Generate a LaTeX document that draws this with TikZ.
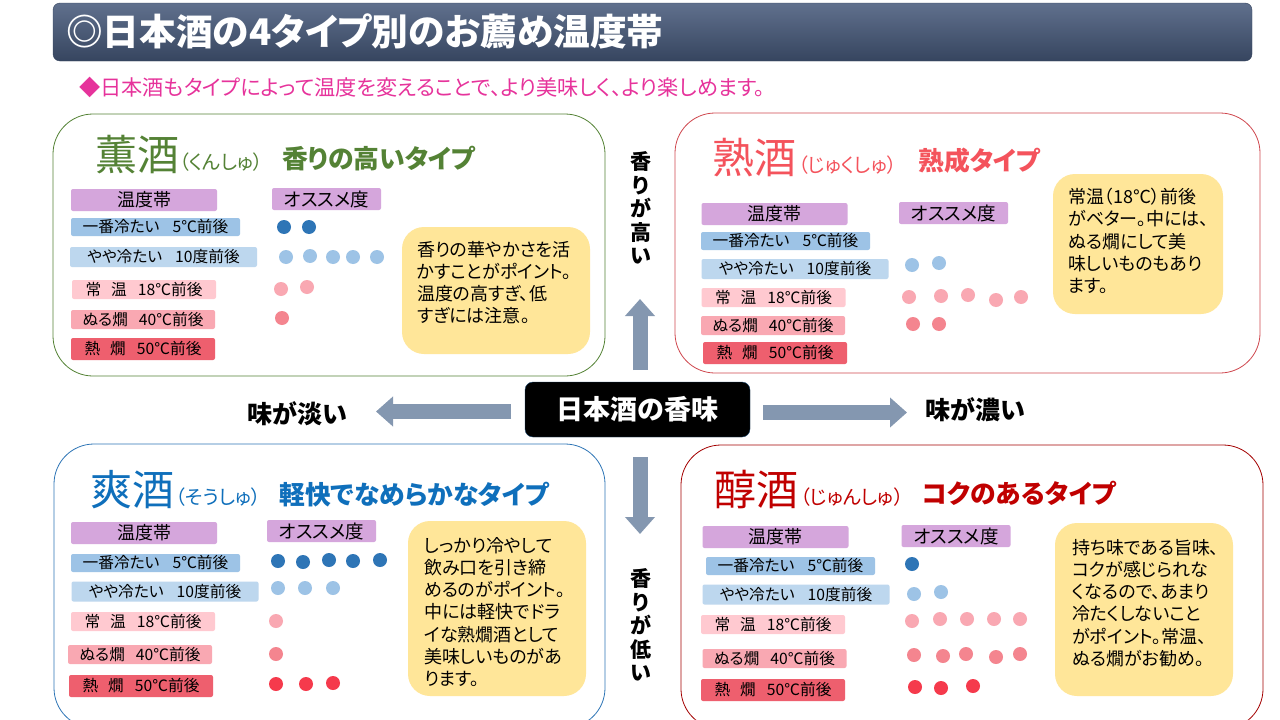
\documentclass[tikz,border=0pt]{standalone}
\usepackage{fontspec}
\setmainfont[RawFeature={+palt}]{Noto Sans CJK JP}
\usetikzlibrary{arrows.meta}
\definecolor{kungreen}{HTML}{548235}
\definecolor{jukured}{HTML}{F4535C}
\definecolor{soublue}{HTML}{0F6FBB}
\definecolor{junred}{HTML}{C00000}
\definecolor{darkdot}{HTML}{2E75B6}
\definecolor{lightdot}{HTML}{9DC3E6}
\definecolor{pinkdot}{HTML}{F9A8B2}
\definecolor{rosedot}{HTML}{F4858F}
\definecolor{reddot}{HTML}{F53A4C}
\definecolor{noteyellow}{HTML}{FFE699}
\definecolor{headpurple}{HTML}{D5A6DC}
\definecolor{coolblue}{HTML}{BDD7EE}
\definecolor{roompink}{HTML}{FFC9D0}
\definecolor{hotred}{HTML}{EE5F6E}
\definecolor{arrowblue}{HTML}{8497B0}
\definecolor{titletop}{HTML}{60708D}
\definecolor{titlelow}{HTML}{36455F}
\definecolor{leadpink}{HTML}{E6339B}
\tikzset{
	panelbox/.style={draw, fill=white, rounded corners=40pt, line width=.8pt},
	notebox/.style={fill=noteyellow, rounded corners=22pt},
	notetext/.style={anchor=north west, inner sep=0pt, align=left, font=\fontsize{18}{22.2}\selectfont},
	kanji/.style={anchor=center, inner sep=0pt, font=\fontsize{42}{42}\selectfont},
	reading/.style={anchor=west, inner sep=0pt, font=\fontsize{19.5}{19.5}\selectfont},
	typename/.style={anchor=west, inner sep=0pt, font=\bfseries\fontsize{25.8}{25.8}\selectfont},
	bar/.style={rounded corners=2pt, inner sep=0pt, font=\fontsize{15.7}{15.7}\selectfont},
	headbar/.style={bar, fill=headpurple, minimum width=146pt, minimum height=22pt, font=\fontsize{18}{18}\selectfont},
	rankbar/.style={bar, fill=headpurple, minimum width=109pt, minimum height=22pt, font=\fontsize{18.5}{18.5}\selectfont},
	coldbar/.style={bar, fill=lightdot, minimum width=169pt, minimum height=18pt},
	coolbar/.style={bar, fill=coolblue, minimum width=187pt, minimum height=20pt},
	roombar/.style={bar, fill=roompink, minimum width=144pt, minimum height=19pt},
	warmbar/.style={bar, fill=pinkdot, minimum width=144pt, minimum height=19pt},
	hotbar/.style={bar, fill=hotred, minimum width=144pt, minimum height=22pt},
	dot/.style={circle, inner sep=0pt, minimum size=14pt},
	sidelabel/.style={inner sep=0pt, font=\bfseries\fontsize{25}{25}\selectfont},
	stacklabel/.style={inner sep=0pt, align=center, font=\bfseries\fontsize{21}{23.5}\selectfont},
	blockarrow/.style={draw=arrowblue, line width=15pt, -{Triangle[length=17pt,width=29pt]}}
}
\begin{document}
\begin{tikzpicture}[x=1pt, y=-1pt]
	\useasboundingbox (0,0) rectangle (1280,720);
	% title and lead
	\node[draw=titlelow, top color=titletop, bottom color=titlelow, rounded corners=7pt, minimum width=1199pt, minimum height=58pt, inner sep=0pt] (titlebar) at (652.5,32) {};
	\node[anchor=west, inner sep=0pt, text=white, font=\bfseries\fontsize{36.7}{36.7}\selectfont] (titletext) at (66,31) {◎日本酒の4タイプ別のお薦め温度帯};
	\node[anchor=west, inner sep=0pt, text=leadpink, font=\fontsize{21.2}{21.2}\selectfont] (leadtext) at (79,87) {◆日本酒もタイプによって温度を変えることで、より美味しく、より楽しめます。};
	% panels
	\node[panelbox, draw=kungreen, minimum width=552pt, minimum height=262pt] (kunpanel) at (329,245) {};
	\node[panelbox, draw=jukured!85!black, minimum width=585pt, minimum height=260pt] (jukupanel) at (967.5,243) {};
	\node[panelbox, draw=darkdot, minimum width=551pt, minimum height=284pt] (soupanel) at (329.5,586) {};
	\node[panelbox, draw=junred!85!black, minimum width=582pt, minimum height=284pt] (junpanel) at (972,587) {};
	% kunshu
	\node[kanji, text=kungreen] (kunname) at (137,155) {薫酒};
	\node[reading, text=kungreen] (kunread) at (179,162) {（くんしゅ）};
	\node[typename, text=kungreen] (kuntype) at (282,159) {香りの高いタイプ};
	\node[headbar] (kunhead) at (144,200) {温度帯};
	\node[rankbar] (kunrank) at (326.5,199) {オススメ度};
	\node[coldbar] (kuncold) at (155.5,227) {一番冷たい\hspace{13pt}5℃前後};
	\node[coolbar] (kuncool) at (163.5,257) {やや冷たい\hspace{13pt}10度前後};
	\node[roombar] (kunroom) at (144,289.5) {常\hspace{10pt}温\hspace{11pt}18℃前後};
	\node[warmbar] (kunwarm) at (143,319.5) {ぬる燗\hspace{11pt}40℃前後};
	\node[hotbar] (kunhot) at (143,349) {熱\hspace{10pt}燗\hspace{11pt}50℃前後};
	\foreach \id/\x/\y/\c in {a/284/227/darkdot, b/309/227/darkdot, c/286/257/lightdot, d/310/256/lightdot, e/333/257/lightdot, f/353/257/lightdot, g/377/257/lightdot, h/281/289/pinkdot, i/307/287/pinkdot, j/282/318/rosedot}
		\node[dot, fill=\c] (kundot\id) at (\x,\y) {};
	\node[notebox, minimum width=188pt, minimum height=127pt] (kunnote) at (496,290.5) {};
	\node[notetext] (kunnotetext) at (417,241) {香りの華やかさを活\\かすことがポイント。\\温度の高すぎ、低\\すぎには注意。};
	% jukushu
	\node[kanji, text=jukured] (jukuname) at (754,158) {熟酒};
	\node[reading, text=jukured] (jukuread) at (798,165) {（じゅくしゅ）};
	\node[typename, text=jukured] (jukutype) at (918,161) {熟成タイプ};
	\node[headbar] (jukuhead) at (774.5,214) {温度帯};
	\node[rankbar] (jukurank) at (953.5,213) {オススメ度};
	\node[coldbar] (jukucold) at (785.5,241) {一番冷たい\hspace{13pt}5℃前後};
	\node[coolbar] (jukucool) at (795,269) {やや冷たい\hspace{13pt}10度前後};
	\node[roombar] (jukuroom) at (773.5,297.5) {常\hspace{10pt}温\hspace{11pt}18℃前後};
	\node[warmbar] (jukuwarm) at (773,325.5) {ぬる燗\hspace{11pt}40℃前後};
	\node[hotbar] (jukuhot) at (775,353) {熱\hspace{10pt}燗\hspace{11pt}50℃前後};
	\foreach \id/\x/\y/\c in {a/912/265/lightdot, b/939/263/lightdot, c/909/297/pinkdot, d/941/296/pinkdot, e/968/295/pinkdot, f/996/300/pinkdot, g/1021/297/pinkdot, h/913/324/rosedot, i/939/324/rosedot}
		\node[dot, fill=\c] (jukudot\id) at (\x,\y) {};
	\node[notebox, minimum width=170pt, minimum height=140pt] (jukunote) at (1138,244) {};
	\node[notetext] (jukunotetext) at (1068,188) {常温（18℃）前後\\がベター。中には、\\ぬる燗にして美\\味しいものもあり\\ます。};
	% soushu
	\node[kanji, text=soublue] (souname) at (132,490) {爽酒};
	\node[reading, text=soublue] (souread) at (175,497) {（そうしゅ）};
	\node[typename, text=soublue] (soutype) at (279,495) {軽快でなめらかなタイプ};
	\node[headbar] (souhead) at (144,533) {温度帯};
	\node[rankbar] (sourank) at (321.5,531) {オススメ度};
	\node[coldbar] (soucold) at (155.5,563) {一番冷たい\hspace{13pt}5℃前後};
	\node[coolbar] (soucool) at (165,591.5) {やや冷たい\hspace{13pt}10度前後};
	\node[roombar] (souroom) at (143,621.5) {常\hspace{10pt}温\hspace{11pt}18℃前後};
	\node[warmbar] (souwarm) at (140,654.5) {ぬる燗\hspace{11pt}40℃前後};
	\node[hotbar] (souhot) at (141,686) {熱\hspace{10pt}燗\hspace{11pt}50℃前後};
	\foreach \id/\x/\y/\c in {a/278/561/darkdot, b/303/562/darkdot, c/329/560/darkdot, d/353/561/darkdot, e/380/560/darkdot, f/278/588/lightdot, g/305/588/lightdot, h/333/588/lightdot, i/276/621/pinkdot, j/276/654/rosedot, k/276/684/reddot, l/306/684/reddot, m/333/683/reddot}
		\node[dot, fill=\c] (soudot\id) at (\x,\y) {};
	\node[notebox, minimum width=178pt, minimum height=175pt] (sounote) at (497,608.5) {};
	\node[notetext] (sounotetext) at (424,537) {しっかり冷やして\\飲み口を引き締\\めるのがポイント。\\中には軽快でドラ\\イな熟燗酒として\\美味しいものがあ\\ります。};
	% junshu
	\node[kanji, text=junred] (junname) at (756,490) {醇酒};
	\node[reading, text=junred] (junread) at (800,497) {（じゅんしゅ）};
	\node[typename, text=junred] (juntype) at (922,493) {コクのあるタイプ};
	\node[headbar] (junhead) at (775.5,537) {温度帯};
	\node[rankbar] (junrank) at (956,536) {オススメ度};
	\node[coldbar] (juncold) at (790.5,566) {一番冷たい\hspace{13pt}5℃前後};
	\node[coolbar] (juncool) at (796,594.5) {やや冷たい\hspace{13pt}10度前後};
	\node[roombar] (junroom) at (773,624.5) {常\hspace{10pt}温\hspace{11pt}18℃前後};
	\node[warmbar] (junwarm) at (774.5,658.5) {ぬる燗\hspace{11pt}40℃前後};
	\node[hotbar] (junhot) at (773,690) {熱\hspace{10pt}燗\hspace{11pt}50℃前後};
	\foreach \id/\x/\y/\c in {a/912/564/darkdot, b/914/594/lightdot, c/941/592/lightdot, d/912/621/pinkdot, e/940/619/pinkdot, f/967/619/pinkdot, g/994/619/pinkdot, h/1020/619/pinkdot, i/914/655/rosedot, j/943/656/rosedot, k/966/654/rosedot, l/996/657/rosedot, m/1020/654/rosedot, n/915/687/reddot, o/941/688/reddot, p/973/686/reddot}
		\node[dot, fill=\c] (jundot\id) at (\x,\y) {};
	\node[notebox, minimum width=178pt, minimum height=173pt] (junnote) at (1144,609.5) {};
	\node[notetext] (junnotetext) at (1072,539) {持ち味である旨味、\\コクが感じられな\\くなるので、あまり\\冷たくしないこと\\がポイント。常温、\\ぬる燗がお勧め。};
	% centre and axes
	\node[draw=darkdot!60!black, fill=black, rounded corners=8pt, text=white, minimum width=225pt, minimum height=55pt, inner sep=0pt, font=\bfseries\fontsize{27}{27}\selectfont] (flavour) at (637.5,409.5) {日本酒の香味};
	\node[stacklabel] (highlabel) at (641,208) {香\\り\\が\\高\\い};
	\node[stacklabel] (lowlabel) at (641,625) {香\\り\\が\\低\\い};
	\node[sidelabel] (lightlabel) at (297.5,414) {味が淡い};
	\node[sidelabel] (richlabel) at (975.5,410) {味が濃い};
	\coordinate (upstart) at (640,370);
	\coordinate (uptip) at (640,299);
	\coordinate (downstart) at (640,457);
	\coordinate (downtip) at (640,534);
	\coordinate (leftstart) at (511,411.5);
	\coordinate (lefttip) at (376,411.5);
	\coordinate (rightstart) at (763,412.5);
	\coordinate (righttip) at (907,412.5);
	\draw[blockarrow] (upstart) -- (uptip);
	\draw[blockarrow] (downstart) -- (downtip);
	\draw[blockarrow] (leftstart) -- (lefttip);
	\draw[blockarrow] (rightstart) -- (righttip);
\end{tikzpicture}
\end{document}
